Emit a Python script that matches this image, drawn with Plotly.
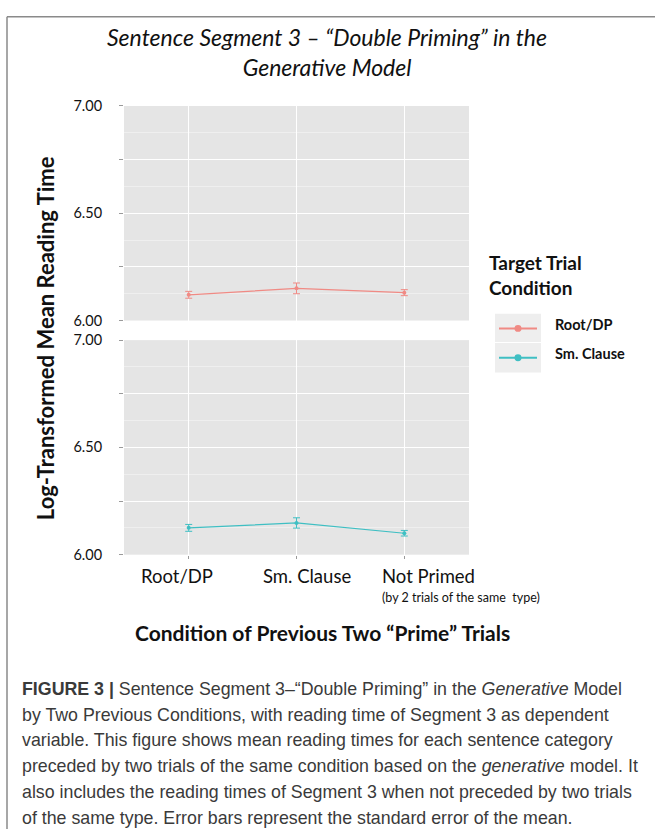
import plotly.graph_objects as go

# ---- data -----------------------------------------------------------------
conditions = ["Root/DP", "Sm. Clause", "Not Primed"]
root_dp_mean = [6.120, 6.150, 6.130]
root_dp_se = [0.016, 0.025, 0.014]
sm_clause_mean = [6.125, 6.148, 6.100]
sm_clause_se = [0.016, 0.024, 0.013]
series_names = ["Root/DP", "Sm. Clause"]
y_tick_vals = [6.00, 6.25, 6.50, 6.75, 7.00]
y_tick_text = ["6.00", "", "6.50", "", "7.00"]

# ---- page geometry (pixels) -------------------------------------------------
W, H = 655, 837
RED = "#F08A84"
TEAL = "#3FBFC3"
PANEL_BG = "#E5E5E5"
LABEL_FONT = "Lato, 'Open Sans', sans-serif"
CAPTION_FONT = "'Liberation Sans', Arial, sans-serif"


def px(x):
    return x / W


def py(y):
    return 1 - y / H


x_dom = [px(124), px(469)]
top_dom = [py(318), py(99)]
bot_dom = [py(557), py(338)]

fig = go.Figure()

for name, mean, se, color, xa, ya in [
    (series_names[0], root_dp_mean, root_dp_se, RED, "x", "y"),
    (series_names[1], sm_clause_mean, sm_clause_se, TEAL, "x2", "y2"),
]:
    fig.add_trace(go.Scatter(
        x=conditions, y=mean, name=name, mode="lines+markers",
        xaxis=xa, yaxis=ya,
        line=dict(color=color, width=1.2),
        marker=dict(color=color, size=4),
        error_y=dict(type="data", array=se, visible=True,
                     color=color, thickness=1, width=3.5),
        showlegend=False,
    ))

yaxis_style = dict(
    range=[6.0, 7.0], tickvals=y_tick_vals, ticktext=y_tick_text,
    showgrid=True, gridcolor="white", gridwidth=1.2,
    minor=dict(dtick=0.125, tick0=6.0, showgrid=True,
               gridcolor="#EFEFEF", gridwidth=0.8),
    ticks="outside", ticklen=4, tickcolor="#9A9A9A", tickwidth=1,
    ticklabelstandoff=14,
    tickfont=dict(family=LABEL_FONT, size=14.5, color="#111"),
    zeroline=False, showline=False, fixedrange=True,
)
xaxis_style = dict(
    type="category", range=[-0.6, 2.6], domain=x_dom,
    showgrid=True, gridcolor="white", gridwidth=1.2,
    zeroline=False, showline=False, showticklabels=False,
    fixedrange=True,
)

fig.update_layout(
    width=W, height=H,
    margin=dict(l=0, r=0, t=0, b=0),
    paper_bgcolor="white", plot_bgcolor=PANEL_BG,
    xaxis=dict(**xaxis_style, anchor="y", ticks=""),
    xaxis2=dict(**xaxis_style, anchor="y2", ticks="outside", ticklen=3,
                tickcolor="#9A9A9A"),
    yaxis=dict(**yaxis_style, domain=top_dom, anchor="x"),
    yaxis2=dict(**yaxis_style, domain=bot_dom, anchor="x2"),
)

ann = []

# title
ann.append(dict(
    x=px(327), y=py(44), xref="paper", yref="paper",
    text="<i>Sentence Segment 3 – “Double Priming” in the<br>Generative Model</i>",
    showarrow=False, xanchor="center", yanchor="middle",
    font=dict(family=LABEL_FONT, size=23, color="#111"),
))

# y axis title
ann.append(dict(
    x=px(45), y=py(336), xref="paper", yref="paper",
    text="<b>Log-Transformed Mean Reading Time</b>", textangle=-90,
    showarrow=False, xanchor="center", yanchor="middle",
    font=dict(family=LABEL_FONT, size=22, color="#111"),
))

# category labels under the lower panel
label_shift = [-12, 10, 24]
for cat, shift in zip(conditions, label_shift):
    ann.append(dict(
        x=cat, y=py(579), xref="x2", yref="paper", xshift=shift,
        text=cat, showarrow=False, xanchor="center", yanchor="middle",
        font=dict(family=LABEL_FONT, size=18.5, color="#111"),
    ))
ann.append(dict(
    x=px(380), y=py(601), xref="paper", yref="paper",
    text="(by 2 trials of the same  type)", showarrow=False,
    xanchor="left", yanchor="middle",
    font=dict(family=LABEL_FONT, size=12.5, color="#111"),
))

# x axis title
ann.append(dict(
    x=px(322), y=py(636), xref="paper", yref="paper",
    text="<b>Condition of Previous Two “Prime” Trials</b>",
    showarrow=False, xanchor="center", yanchor="middle",
    font=dict(family=LABEL_FONT, size=21, color="#111"),
))

# legend
ann.append(dict(
    x=px(487), y=py(272), xref="paper", yref="paper",
    text="<b>Target Trial<br>Condition</b>", showarrow=False,
    xanchor="left", yanchor="middle", align="left",
    font=dict(family=LABEL_FONT, size=19, color="#111"),
))
shapes = []
key_rows = [(series_names[0], RED, 311, 340, 326), (series_names[1], TEAL, 341, 371, 356)]
for name, color, y0, y1, yl in key_rows:
    shapes.append(dict(type="rect", xref="paper", yref="paper",
                       x0=px(495), x1=px(541), y0=py(y1), y1=py(y0),
                       fillcolor="#EEEEEE", line=dict(width=0), layer="below"))
    shapes.append(dict(type="line", xref="paper", yref="paper",
                       x0=px(499), x1=px(537), y0=py(yl), y1=py(yl),
                       line=dict(color=color, width=2)))
    shapes.append(dict(type="circle", xref="paper", yref="paper",
                       x0=px(514.5), x1=px(521.5), y0=py(yl + 3.5), y1=py(yl - 3.5),
                       fillcolor=color, line=dict(width=0)))
    ann.append(dict(
        x=px(553), y=py(yl - 4), xref="paper", yref="paper",
        text=f"<b>{name}</b>", showarrow=False,
        xanchor="left", yanchor="middle",
        font=dict(family=LABEL_FONT, size=14.5, color="#111"),
    ))

# frame around the figure
shapes.append(dict(type="line", xref="paper", yref="paper",
                   x0=px(7), x1=px(7), y0=0, y1=py(8),
                   line=dict(color="#8A8A8A", width=1.5)))
shapes.append(dict(type="line", xref="paper", yref="paper",
                   x0=px(7), x1=1, y0=py(8), y1=py(8),
                   line=dict(color="#8A8A8A", width=1.5)))

# caption
caption_lines = [
    "<b>FIGURE 3 |</b> Sentence Segment 3–“Double Priming” in the <i>Generative</i> Model",
    "by Two Previous Conditions, with reading time of Segment 3 as dependent",
    "variable. This figure shows mean reading times for each sentence category",
    "preceded by two trials of the same condition based on the <i>generative</i> model. It",
    "also includes the reading times of Segment 3 when not preceded by two trials",
    "of the same type. Error bars represent the standard error of the mean.",
]
for i, line in enumerate(caption_lines):
    ann.append(dict(
        x=px(20), y=py(694 + i * 26.3), xref="paper", yref="paper",
        text=line, showarrow=False, xanchor="left", yanchor="middle",
        font=dict(family=CAPTION_FONT, size=17.8, color="#3A3A3A"),
    ))

fig.update_layout(annotations=ann, shapes=shapes)
fig.write_html("out.html")
